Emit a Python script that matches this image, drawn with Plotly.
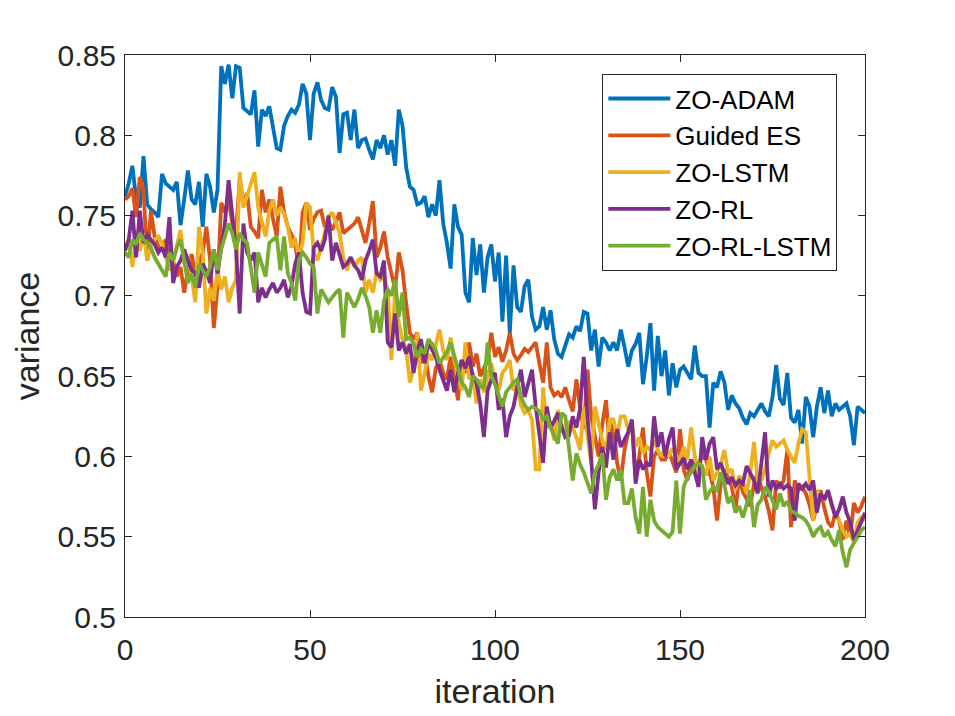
import plotly.graph_objects as go

# iteration index, 0..200
iterations = list(range(201))

zo_adam = [
    0.762, 0.770, 0.781, 0.760, 0.755, 0.787, 0.757, 0.754, 0.752, 0.749,
    0.776, 0.770, 0.768, 0.766, 0.771, 0.744, 0.760, 0.778, 0.760, 0.757,
    0.771, 0.743, 0.776, 0.768, 0.752, 0.766, 0.843, 0.832, 0.844, 0.823,
    0.843, 0.842, 0.817, 0.815, 0.813, 0.828, 0.793, 0.816, 0.812, 0.818,
    0.805, 0.792, 0.791, 0.806, 0.812, 0.816, 0.814, 0.819, 0.832, 0.826,
    0.797, 0.826, 0.833, 0.822, 0.817, 0.816, 0.830, 0.824, 0.789, 0.813,
    0.814, 0.797, 0.816, 0.792, 0.797, 0.798, 0.791, 0.785, 0.797, 0.792,
    0.800, 0.788, 0.797, 0.781, 0.816, 0.806, 0.780, 0.768, 0.766, 0.757,
    0.758, 0.762, 0.749, 0.757, 0.750, 0.772, 0.745, 0.733, 0.717, 0.757,
    0.743, 0.738, 0.702, 0.696, 0.736, 0.713, 0.732, 0.702, 0.724, 0.732,
    0.709, 0.727, 0.684, 0.725, 0.677, 0.719, 0.693, 0.690, 0.706, 0.710,
    0.687, 0.679, 0.681, 0.693, 0.679, 0.691, 0.673, 0.664, 0.662, 0.670,
    0.676, 0.674, 0.681, 0.678, 0.690, 0.689, 0.666, 0.679, 0.656, 0.674,
    0.671, 0.666, 0.671, 0.666, 0.679, 0.668, 0.656, 0.666, 0.670, 0.677,
    0.645, 0.662, 0.683, 0.641, 0.675, 0.650, 0.666, 0.638, 0.658, 0.643,
    0.654, 0.656, 0.652, 0.648, 0.669, 0.652, 0.650, 0.650, 0.618, 0.646,
    0.643, 0.653, 0.646, 0.629, 0.638, 0.633, 0.630, 0.624, 0.620, 0.627,
    0.625, 0.629, 0.633, 0.628, 0.625, 0.637, 0.657, 0.636, 0.632, 0.652,
    0.624, 0.621, 0.629, 0.608, 0.637, 0.631, 0.612, 0.631, 0.643, 0.627,
    0.641, 0.625, 0.633, 0.629, 0.631, 0.633, 0.625, 0.607, 0.631, 0.629, 0.627,
]

guided_es = [
    0.760, 0.762, 0.767, 0.749, 0.774, 0.766, 0.722, 0.753, 0.737, 0.731,
    0.728, 0.735, 0.726, 0.722, 0.712, 0.718, 0.702, 0.716, 0.726, 0.713,
    0.720, 0.727, 0.743, 0.722, 0.680, 0.706, 0.758, 0.752, 0.760, 0.745,
    0.740, 0.772, 0.758, 0.764, 0.743, 0.740, 0.736, 0.766, 0.752, 0.760,
    0.748, 0.737, 0.768, 0.752, 0.743, 0.738, 0.733, 0.714, 0.752, 0.758,
    0.741, 0.748, 0.752, 0.753, 0.743, 0.747, 0.741, 0.746, 0.752, 0.739,
    0.741, 0.743, 0.745, 0.749, 0.740, 0.733, 0.745, 0.759, 0.724, 0.730,
    0.740, 0.724, 0.714, 0.704, 0.727, 0.716, 0.695, 0.677, 0.673, 0.677,
    0.658, 0.666, 0.650, 0.640, 0.655, 0.660, 0.652, 0.648, 0.662, 0.650,
    0.635, 0.660, 0.652, 0.671, 0.656, 0.664, 0.650, 0.655, 0.660, 0.677,
    0.662, 0.668, 0.659, 0.666, 0.677, 0.664, 0.660, 0.663, 0.667, 0.665,
    0.668, 0.671, 0.658, 0.646, 0.671, 0.643, 0.638, 0.640, 0.637, 0.643,
    0.635, 0.628, 0.648, 0.630, 0.617, 0.654, 0.625, 0.612, 0.600, 0.620,
    0.635, 0.606, 0.621, 0.596, 0.585, 0.604, 0.615, 0.621, 0.587, 0.600,
    0.618, 0.590, 0.575, 0.600, 0.604, 0.598, 0.598, 0.603, 0.596, 0.590,
    0.617, 0.592, 0.585, 0.598, 0.594, 0.596, 0.600, 0.598, 0.590, 0.581,
    0.560, 0.583, 0.592, 0.586, 0.581, 0.567, 0.587, 0.578, 0.573, 0.569,
    0.583, 0.590, 0.580, 0.575, 0.566, 0.554, 0.585, 0.580, 0.585, 0.604,
    0.556, 0.585, 0.579, 0.581, 0.577, 0.570, 0.560, 0.569, 0.579, 0.568,
    0.559, 0.556, 0.565, 0.560, 0.548, 0.560, 0.550, 0.571, 0.565, 0.569, 0.575,
]

zo_lstm = [
    0.730, 0.735, 0.718, 0.735, 0.728, 0.739, 0.722, 0.732, 0.735, 0.737,
    0.733, 0.724, 0.716, 0.721, 0.730, 0.741, 0.720, 0.724, 0.712, 0.696,
    0.743, 0.727, 0.689, 0.705, 0.697, 0.716, 0.704, 0.712, 0.696, 0.705,
    0.710, 0.777, 0.755, 0.762, 0.770, 0.777, 0.755, 0.747, 0.737, 0.753,
    0.760, 0.750, 0.755, 0.751, 0.743, 0.730, 0.736, 0.724, 0.733, 0.758,
    0.755, 0.727, 0.722, 0.730, 0.740, 0.749, 0.752, 0.745, 0.739, 0.724,
    0.716, 0.724, 0.718, 0.722, 0.724, 0.702, 0.710, 0.702, 0.715, 0.710,
    0.712, 0.704, 0.660, 0.704, 0.683, 0.673, 0.666, 0.646, 0.655, 0.677,
    0.641, 0.652, 0.664, 0.660, 0.670, 0.679, 0.666, 0.660, 0.674, 0.660,
    0.650, 0.641, 0.671, 0.648, 0.652, 0.633, 0.648, 0.640, 0.650, 0.658,
    0.646, 0.641, 0.652, 0.655, 0.660, 0.641, 0.645, 0.632, 0.627, 0.629,
    0.623, 0.592, 0.592, 0.643, 0.618, 0.622, 0.610, 0.629, 0.620, 0.615,
    0.622, 0.618, 0.612, 0.604, 0.631, 0.615, 0.596, 0.631, 0.620, 0.610,
    0.604, 0.623, 0.623, 0.612, 0.625, 0.625, 0.617, 0.620, 0.606, 0.612,
    0.602, 0.606, 0.604, 0.610, 0.604, 0.600, 0.606, 0.600, 0.605, 0.600,
    0.596, 0.606, 0.598, 0.618, 0.600, 0.590, 0.594, 0.588, 0.600, 0.585,
    0.590, 0.595, 0.604, 0.590, 0.592, 0.579, 0.588, 0.584, 0.577, 0.590,
    0.609, 0.585, 0.585, 0.592, 0.602, 0.610, 0.606, 0.608, 0.610, 0.604,
    0.600, 0.596, 0.608, 0.617, 0.615, 0.585, 0.560, 0.579, 0.575, 0.573,
    0.578, 0.569, 0.565, 0.560, 0.554, 0.550, 0.552, 0.546, 0.559, 0.562, 0.560,
]

zo_rl = [
    0.728, 0.735, 0.753, 0.724, 0.753, 0.733, 0.738, 0.735, 0.732, 0.727,
    0.730, 0.724, 0.749, 0.708, 0.718, 0.722, 0.729, 0.722, 0.716, 0.714,
    0.705, 0.720, 0.715, 0.708, 0.729, 0.714, 0.730, 0.745, 0.772, 0.749,
    0.729, 0.689, 0.745, 0.727, 0.722, 0.727, 0.696, 0.705, 0.699, 0.704,
    0.708, 0.702, 0.705, 0.710, 0.699, 0.706, 0.720, 0.727, 0.702, 0.690,
    0.689, 0.730, 0.733, 0.728, 0.735, 0.750, 0.722, 0.733, 0.725, 0.718,
    0.720, 0.724, 0.719, 0.716, 0.710, 0.722, 0.728, 0.735, 0.714, 0.712,
    0.722, 0.671, 0.668, 0.689, 0.666, 0.671, 0.664, 0.670, 0.652, 0.666,
    0.673, 0.658, 0.671, 0.667, 0.662, 0.654, 0.648, 0.641, 0.654, 0.640,
    0.652, 0.660, 0.655, 0.662, 0.650, 0.646, 0.633, 0.612, 0.641, 0.648,
    0.652, 0.629, 0.636, 0.612, 0.625, 0.631, 0.643, 0.654, 0.637, 0.645,
    0.654, 0.631, 0.615, 0.596, 0.631, 0.618, 0.622, 0.627, 0.618, 0.612,
    0.613, 0.625, 0.618, 0.630, 0.662, 0.625, 0.598, 0.567, 0.590, 0.606,
    0.593, 0.615, 0.598, 0.617, 0.606, 0.610, 0.615, 0.623, 0.583, 0.598,
    0.592, 0.596, 0.594, 0.625, 0.606, 0.615, 0.600, 0.611, 0.618, 0.592,
    0.596, 0.599, 0.592, 0.598, 0.590, 0.581, 0.612, 0.598, 0.608, 0.612,
    0.592, 0.596, 0.589, 0.583, 0.587, 0.582, 0.585, 0.583, 0.594, 0.590,
    0.585, 0.577, 0.598, 0.615, 0.575, 0.585, 0.580, 0.583, 0.580, 0.582,
    0.580, 0.560, 0.583, 0.580, 0.583, 0.579, 0.585, 0.565, 0.577, 0.573,
    0.579, 0.570, 0.562, 0.567, 0.575, 0.565, 0.559, 0.548, 0.554, 0.560, 0.565,
]

zo_rl_lstm = [
    0.727, 0.724, 0.735, 0.732, 0.739, 0.735, 0.733, 0.730, 0.724, 0.720,
    0.716, 0.712, 0.727, 0.722, 0.730, 0.735, 0.722, 0.708, 0.714, 0.705,
    0.720, 0.716, 0.712, 0.718, 0.729, 0.716, 0.729, 0.737, 0.745, 0.739,
    0.729, 0.739, 0.735, 0.733, 0.718, 0.702, 0.727, 0.720, 0.712, 0.733,
    0.735, 0.737, 0.716, 0.737, 0.714, 0.708, 0.697, 0.722, 0.727, 0.724,
    0.720, 0.718, 0.689, 0.704, 0.700, 0.696, 0.699, 0.702, 0.704, 0.674,
    0.702, 0.697, 0.693, 0.698, 0.705, 0.700, 0.693, 0.677, 0.691, 0.677,
    0.697, 0.704, 0.700, 0.710, 0.687, 0.702, 0.673, 0.674, 0.670, 0.662,
    0.667, 0.664, 0.673, 0.670, 0.666, 0.658, 0.662, 0.665, 0.671, 0.662,
    0.654, 0.646, 0.643, 0.637, 0.650, 0.648, 0.644, 0.643, 0.671, 0.650,
    0.645, 0.637, 0.631, 0.640, 0.643, 0.646, 0.648, 0.637, 0.632, 0.629,
    0.631, 0.630, 0.628, 0.623, 0.625, 0.618, 0.613, 0.608, 0.627, 0.625,
    0.605, 0.585, 0.602, 0.595, 0.590, 0.583, 0.577, 0.590, 0.595, 0.602,
    0.573, 0.587, 0.592, 0.585, 0.592, 0.571, 0.571, 0.580, 0.562, 0.552,
    0.581, 0.550, 0.573, 0.560, 0.556, 0.554, 0.552, 0.550, 0.553, 0.585,
    0.552, 0.581, 0.587, 0.590, 0.594, 0.596, 0.594, 0.573, 0.578, 0.581,
    0.579, 0.590, 0.582, 0.571, 0.575, 0.565, 0.569, 0.562, 0.570, 0.579,
    0.556, 0.570, 0.573, 0.581, 0.578, 0.572, 0.567, 0.577, 0.569, 0.572,
    0.566, 0.565, 0.563, 0.562, 0.560, 0.556, 0.550, 0.554, 0.556, 0.550,
    0.553, 0.548, 0.544, 0.554, 0.540, 0.531, 0.542, 0.546, 0.550, 0.554, 0.556,
]

names = ["ZO-ADAM", "Guided ES", "ZO-LSTM", "ZO-RL", "ZO-RL-LSTM"]
colors = ["#0072BD", "#D95319", "#EDB120", "#7E2F8E", "#77AC30"]
series = [zo_adam, guided_es, zo_lstm, zo_rl, zo_rl_lstm]

fig = go.Figure()
for name, color, ys in zip(names, colors, series):
    fig.add_trace(go.Scatter(x=iterations, y=ys, mode="lines", name=name,
                             line=dict(color=color, width=3.8)))

axis_style = dict(showline=True, linecolor="#262626", linewidth=1, mirror="ticks",
                  ticks="inside", ticklen=7, tickcolor="#262626",
                  showgrid=False, zeroline=False,
                  tickfont=dict(size=30, color="#262626"))

# the page body adds 8px, so margins are shifted to keep the axes box in place
fig.update_layout(
    width=955, height=716,
    margin=dict(l=117, r=98, t=47, b=107),
    paper_bgcolor="white", plot_bgcolor="white",
    font=dict(family="Liberation Sans, Arial, sans-serif", color="#262626"),
    showlegend=True,
    legend=dict(x=0.645, y=0.966, xanchor="left", yanchor="top",
                bgcolor="white", bordercolor="#262626", borderwidth=1,
                font=dict(size=26, color="black"), itemwidth=62),
)
fig.update_xaxes(range=[0, 200], tick0=0, dtick=50, ticklabelstandoff=6,
                 title=dict(text="iteration", font=dict(size=34), standoff=14),
                 **axis_style)
fig.update_yaxes(range=[0.5, 0.85], tick0=0.5, dtick=0.05, ticklabelstandoff=2,
                 title=dict(text="variance", font=dict(size=34), standoff=8),
                 **axis_style)

fig.write_html("out.html")
